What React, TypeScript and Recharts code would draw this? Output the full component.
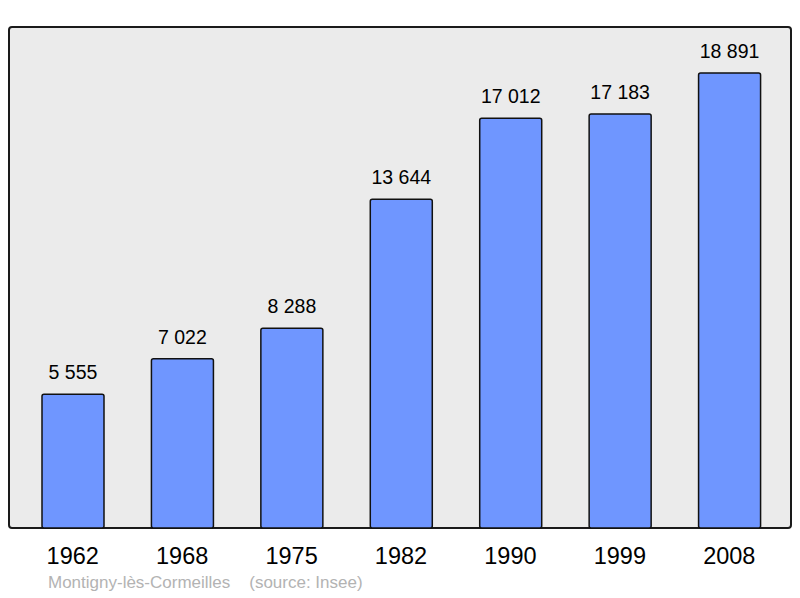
import { BarChart, Bar, XAxis, YAxis, LabelList } from "recharts";

const years = ["1962", "1968", "1975", "1982", "1990", "1999", "2008"];
const population = [5555, 7022, 8288, 13644, 17012, 17183, 18891];

const data = years.map((year, i) => ({ year, population: population[i] }));

const fmt = (v: number) => String(v).replace(/\B(?=(\d{3})+(?!\d))/g, " ");

const font = '"Liberation Sans", Arial, sans-serif';

export default function App() {
  return (
    <div
      style={{
        position: "absolute",
        left: 0,
        top: 0,
        width: 800,
        height: 598,
        background: "#fff",
        fontFamily: font,
      }}
    >
      <div
        style={{
          position: "absolute",
          left: 8,
          top: 26,
          width: 780,
          height: 499,
          background: "#ebebeb",
          border: "2px solid #1a1a1a",
          borderRadius: 4,
        }}
      />
      <div style={{ position: "absolute", left: 0, top: 0 }}>
        <BarChart
          width={800}
          height={598}
          data={data}
          margin={{ top: 27, right: 9, bottom: 0, left: 9 }}
          barSize={62}
        >
          <XAxis
            dataKey="year"
            height={70}
            padding={{ left: 9, right: 7 }}
            axisLine={false}
            tickLine={false}
            tick={{ fill: "#000", fontSize: 23.5, fontFamily: font }}
            tickMargin={13}
          />
          <YAxis hide domain={[0, 20800]} />
          <Bar
            dataKey="population"
            fill="#6f96ff"
            stroke="#111"
            strokeWidth={1.5}
            radius={2}
            isAnimationActive={false}
          >
            <LabelList
              dataKey="population"
              position="top"
              offset={15}
              formatter={(v: number) => fmt(v)}
              style={{ fill: "#000", fontSize: 19.5, fontFamily: font }}
            />
          </Bar>
        </BarChart>
      </div>
      <div
        style={{
          position: "absolute",
          left: 48,
          top: 573,
          fontSize: 17,
          color: "#b3b3b3",
          whiteSpace: "pre",
        }}
      >
        {"Montigny-lès-Cormeilles    (source: Insee)"}
      </div>
    </div>
  );
}
